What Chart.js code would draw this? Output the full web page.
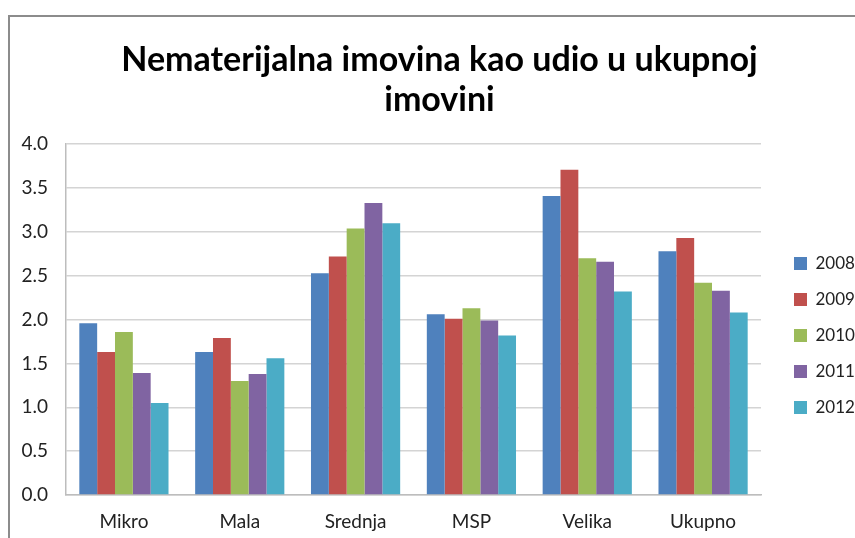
<!DOCTYPE html>
<html>
<head>
<meta charset="utf-8">
<script src="https://cdn.jsdelivr.net/npm/chart.js@4.4.0/dist/chart.umd.min.js"></script>
<style>
  html, body { margin: 0; padding: 0; background: #fff; }
  #wrap { position: relative; width: 855px; height: 538px; overflow: hidden; }
  #frame { position: absolute; left: 8px; top: 15px; width: 860px; height: 600px;
           border-left: 2px solid #8c8c8c; border-top: 2px solid #8c8c8c; box-sizing: border-box; }
  canvas { position: absolute; left: 0; top: 0; }
</style>
</head>
<body>
<div id="wrap">
  <div id="frame"></div>
  <canvas id="c" width="855" height="538"></canvas>
</div>
<script>
const titleLines = ["Nematerijalna imovina kao udio u ukupnoj", "imovini"];
const categories = ["Mikro", "Mala", "Srednja", "MSP", "Velika", "Ukupno"];
const years = ["2008", "2009", "2010", "2011", "2012"];
const v2008 = [1.96, 1.63, 2.53, 2.06, 3.41, 2.78];
const v2009 = [1.63, 1.79, 2.72, 2.01, 3.71, 2.93];
const v2010 = [1.86, 1.30, 3.04, 2.13, 2.70, 2.42];
const v2011 = [1.39, 1.38, 3.33, 1.99, 2.66, 2.33];
const v2012 = [1.05, 1.56, 3.10, 1.82, 2.32, 2.08];
const colors = ["#4F81BD", "#C0504D", "#9BBB59", "#8064A2", "#4BACC6"];
const seriesValues = [v2008, v2009, v2010, v2011, v2012];

const FONT = "Lato, 'Open Sans', sans-serif";

// shift the title box so it is centred inside the chart frame
const titleShift = {
  id: "titleShift",
  afterLayout(chart) {
    if (chart.titleBlock) { chart.titleBlock.left = 24; }
  }
};

new Chart(document.getElementById("c"), {
  type: "bar",
  data: {
    labels: categories,
    datasets: years.map((y, i) => ({
      label: y,
      data: seriesValues[i],
      backgroundColor: colors[i],
      borderWidth: 0,
      categoryPercentage: 0.77,
      barPercentage: 1.0
    }))
  },
  plugins: [titleShift],
  options: {
    responsive: false,
    animation: false,
    devicePixelRatio: 1,
    layout: { padding: { left: 0, right: 0, top: 0, bottom: 0 } },
    plugins: {
      title: {
        display: true,
        text: titleLines,
        color: "#000",
        font: { family: FONT, size: 34, weight: "bold", lineHeight: 1.18 },
        padding: { top: 40, bottom: 24 }
      },
      legend: {
        position: "right",
        fullSize: false,
        maxWidth: 80,
        title: { display: true, text: " ", font: { size: 1, lineHeight: 1 }, padding: { top: 31, bottom: 0 } },
        labels: {
          color: "#222",
          font: { family: FONT, size: 17 },
          boxWidth: 13,
          boxHeight: 13,
          padding: 19
        }
      },
      tooltip: { enabled: false }
    },
    scales: {
      x: {
        grid: { display: false, drawTicks: false },
        border: { display: true, color: "#bdbdbd", width: 1.5 },
        ticks: { color: "#222", font: { family: FONT, size: 19 }, padding: 15 },
        afterFit: (s) => { s.height = 43; }
      },
      y: {
        min: 0, max: 4,
        ticks: { stepSize: 0.5, color: "#222", font: { family: FONT, size: 19 }, padding: 18,
                 callback: (v) => Number(v).toFixed(1) },
        grid: { color: "#d4d4d4", lineWidth: 1.5, drawTicks: false },
        border: { display: true, color: "#bdbdbd", width: 1.5 },
        afterFit: (s) => { s.width = 66; }
      },
      y2: {
        type: "linear",
        position: "right",
        display: true,
        ticks: { display: false },
        grid: { display: false, drawTicks: false },
        border: { display: false },
        afterFit: (s) => { s.width = 14; }
      }
    }
  }
});
</script>
</body>
</html>
